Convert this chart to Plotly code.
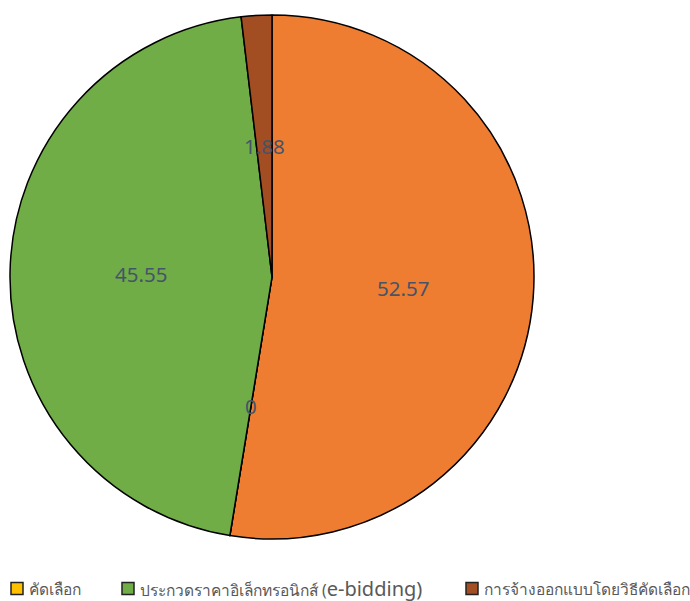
import math
import plotly.graph_objects as go

labels = ["เฉพาะเจาะจง", "คัดเลือก", "ประกวดราคาอิเล็กทรอนิกส์ (e-bidding)", "การจ้างออกแบบโดยวิธีคัดเลือก"]
values = [52.57, 0, 45.55, 1.88]
colors = ["#EE7D32", "#FFC000", "#71AD47", "#A24D22"]
legend_items = [1, 2, 3]  # indices shown in the legend

W, H = 690, 601
cx, cy, R = 272, 277, 262

fig = go.Figure(go.Pie(
    labels=labels, values=values, sort=False, direction="clockwise",
    marker=dict(colors=colors, line=dict(color="black", width=1.5)),
    textinfo="none", hoverinfo="label+value", showlegend=False,
    domain=dict(x=[(cx - R) / W, (cx + R) / W], y=[(H - cy - R) / H, (H - cy + R) / H]),
))

# data labels at the centre of each slice
total = sum(values)
cum = 0
annotations = []
for v in values:
    mid = (cum + v / 2) / total * 2 * math.pi
    cum += v
    x = cx + 0.5 * R * math.sin(mid)
    y = cy - 0.5 * R * math.cos(mid)
    annotations.append(dict(
        x=x / W, y=1 - y / H, xref="paper", yref="paper", text=f"{v:g}",
        xanchor="center", yanchor="middle",
        showarrow=False, font=dict(family="Noto Sans", size=20.5, color="#44546A"),
    ))


def legend_text(s):
    # Latin part of the label is drawn larger, as in the reference
    if "(" in s:
        a, b = s.split("(", 1)
        return f"{a}(<span style='font-size:20px'>{b}</span>"
    return s


# legend
leg_x = [11, 122, 466]
leg_y = 588.5
shapes = []
for i, lx in zip(legend_items, leg_x):
    shapes.append(dict(
        type="rect", xref="paper", yref="paper",
        x0=lx / W, x1=(lx + 12) / W, y0=1 - (leg_y + 6) / H, y1=1 - (leg_y - 6) / H,
        fillcolor=colors[i], line=dict(color="#222222", width=1.5),
    ))
    annotations.append(dict(
        x=(lx + 16) / W, y=1 - leg_y / H, xref="paper", yref="paper", text=legend_text(labels[i]),
        showarrow=False, xanchor="left", yanchor="middle",
        font=dict(family="Noto Sans, sans-serif", size=15.5, color="#595959"),
    ))

fig.update_layout(
    width=W, height=H, margin=dict(l=0, r=0, t=0, b=0),
    paper_bgcolor="white", plot_bgcolor="white",
    annotations=annotations, shapes=shapes,
)
fig.write_html("out.html", config={"displayModeBar": False},
               post_script="document.body.style.margin='0';document.body.style.overflow='hidden';")
